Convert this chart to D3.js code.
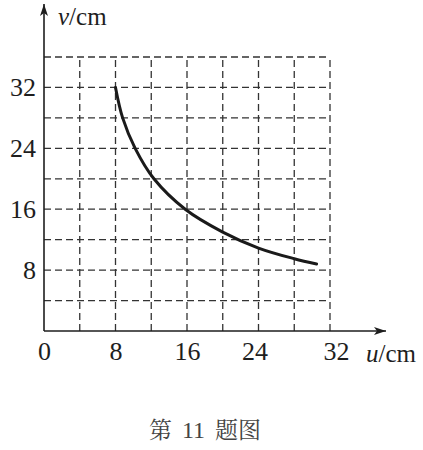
<!DOCTYPE html>
<html>
<head>
<meta charset="utf-8">
<script src="https://cdn.jsdelivr.net/npm/d3@7"></script>
<style>
  html, body { margin: 0; padding: 0; background: #fff; }
  svg { display: block; }
</style>
</head>
<body>
<svg id="chart" width="423" height="450"></svg>
<script>
// Data
const uValues = [8, 8.8, 10.2, 12.3, 15.8, 20, 24, 28, 30.5];
const vValues = [32, 28, 24, 20, 16, 13, 10.9, 9.5, 8.8];
const xTickLabels = [0, 8, 16, 24, 32];
const yTickLabels = [8, 16, 24, 32];
const gridU = [4, 8, 12, 16, 20, 24, 28, 32];
const gridV = [4, 8, 12, 16, 20, 24, 28, 32, 36];

const svg = d3.select("#chart");
const x = d3.scaleLinear().domain([0, 32]).range([44, 330]);
const y = d3.scaleLinear().domain([0, 36]).range([331, 57]);
const ink = "#1e1e1e";
const serif = "'Liberation Serif', 'Times New Roman', 'DejaVu Serif', serif";

// arrow marker
const defs = svg.append("defs");
defs.append("marker")
  .attr("id", "arr").attr("viewBox", "0 0 12 8")
  .attr("refX", 12).attr("refY", 4)
  .attr("markerWidth", 12).attr("markerHeight", 8)
  .attr("markerUnits", "userSpaceOnUse")
  .attr("orient", "auto")
  .append("path").attr("d", "M0,0 L12,4 L0,8 L3,4 Z").attr("fill", ink);

// grid
const grid = svg.append("g").attr("stroke", "#333").attr("stroke-width", 1.3)
  .attr("stroke-dasharray", "7,4").attr("fill", "none");
grid.selectAll("line.v").data(gridU).join("line")
  .attr("x1", d => x(d)).attr("x2", d => x(d))
  .attr("y1", y(0)).attr("y2", y(36));
grid.selectAll("line.h").data(gridV).join("line")
  .attr("class", "h")
  .attr("x1", x(0)).attr("x2", x(32))
  .attr("y1", d => y(d)).attr("y2", d => y(d));

// axes lines with arrows
svg.append("line").attr("x1", x(0)).attr("y1", y(0)).attr("x2", 386).attr("y2", y(0))
  .attr("stroke", ink).attr("stroke-width", 1.6).attr("marker-end", "url(#arr)");
svg.append("line").attr("x1", x(0)).attr("y1", y(0)).attr("x2", x(0)).attr("y2", 4)
  .attr("stroke", ink).attr("stroke-width", 1.6).attr("marker-end", "url(#arr)");

// tick labels via d3 axes
const xAxis = svg.append("g").attr("transform", `translate(0,${y(0)})`)
  .call(d3.axisBottom(x).tickValues(xTickLabels).tickSize(0).tickPadding(11));
xAxis.select(".domain").remove();
xAxis.attr("font-family", null).attr("font-size", null);
xAxis.selectAll("text")
  .style("font-family", serif).style("font-size", "26px").attr("fill", ink)
  .attr("dx", d => d === 32 ? 6 : (d === 24 ? -4 : 0));

const yAxis = svg.append("g").attr("transform", `translate(${x(0)},0)`)
  .call(d3.axisLeft(y).tickValues(yTickLabels).tickSize(0).tickPadding(8));
yAxis.select(".domain").remove();
yAxis.attr("font-family", null).attr("font-size", null);
yAxis.selectAll("text")
  .style("font-family", serif).style("font-size", "26px").attr("fill", ink);

// axis titles
const vt = svg.append("text").attr("x", 58).attr("y", 25)
  .style("font-family", serif).style("font-size", "25px").attr("fill", ink);
vt.append("tspan").style("font-style", "italic").text("v");
vt.append("tspan").text("/cm");

const ut = svg.append("text").attr("x", 366).attr("y", 362)
  .style("font-family", serif).style("font-size", "25px").attr("fill", ink);
ut.append("tspan").style("font-style", "italic").text("u");
ut.append("tspan").text("/cm");

// curve
const pts = uValues.map((u, i) => [u, vValues[i]]);
svg.append("path").datum(pts)
  .attr("fill", "none").attr("stroke", "#1a1a1a").attr("stroke-width", 3)
  .attr("stroke-linecap", "round")
  .attr("d", d3.line().x(d => x(d[0])).y(d => y(d[1])).curve(d3.curveCatmullRom.alpha(0.5)));

// caption
const cap = svg.append("text").attr("x", 149).attr("y", 438)
  .style("font-family", "'Noto Serif CJK SC', 'Noto Sans CJK SC', sans-serif").style("font-size", "23px")
  .attr("fill", "#444");
cap.append("tspan").text("第");
cap.append("tspan").attr("dx", 10).style("font-family", serif).style("font-size", "24px").text("11");
cap.append("tspan").attr("dx", 10).text("题图");
</script>
</body>
</html>
